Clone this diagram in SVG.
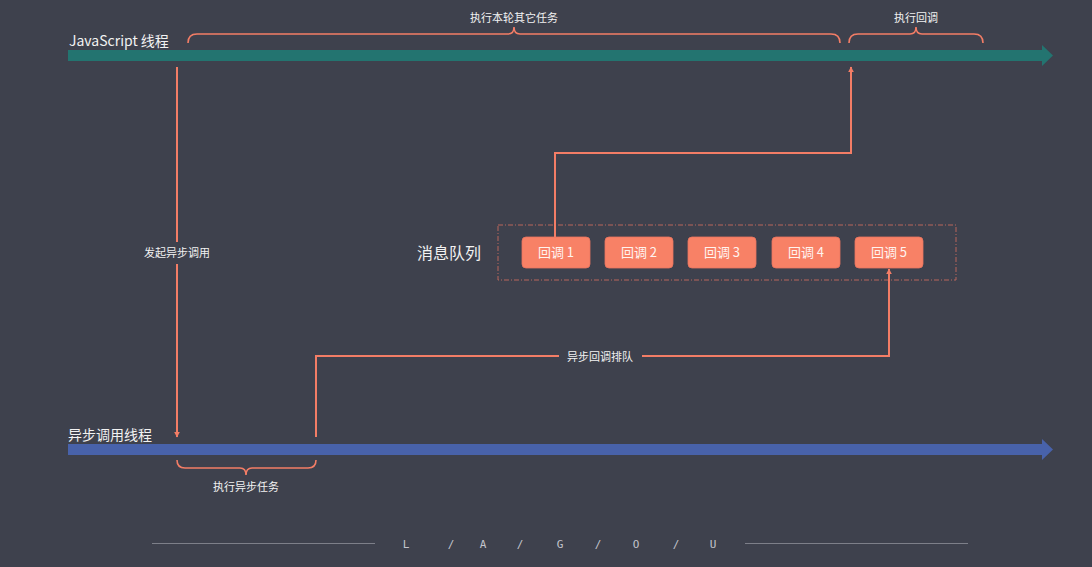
<svg xmlns="http://www.w3.org/2000/svg" width="1092" height="567" viewBox="0 0 1092 567">
<defs>
<style>
.t{font-family:"Noto Sans CJK SC","Noto Sans",sans-serif;fill:#f2f2f2}
.lbl{font-size:11px;text-anchor:middle}
.ln{fill:none;stroke:#f37d66;stroke-width:2}
.br{fill:none;stroke:#f37d66;stroke-width:1.6}
.node rect{fill:#f88166;stroke:#e87560;stroke-width:0.8}
.node text{font-family:"Noto Sans CJK SC","Noto Sans",sans-serif;font-size:13px;fill:#fff3ef;text-anchor:middle}
.ft{font-family:"DejaVu Sans Mono","Liberation Mono",monospace;font-size:11px;fill:#c3c4cc;text-anchor:middle}
</style>
<marker id="ah" viewBox="0 0 10 10" refX="9" refY="5" markerWidth="6" markerHeight="6" markerUnits="userSpaceOnUse" orient="auto">
<path d="M0,0 L10,5 L0,10 Z" fill="#f37d66"/>
</marker>
</defs>
<rect width="1092" height="567" fill="#3e414d"/>

<g id="js-thread">
<path d="M68,50 H1042 V45 L1053,55.5 L1042,66 V61 H68 Z" fill="#237470"/>
<text class="t" x="69" y="46" font-size="14">JavaScript 线程</text>
</g>
<g id="async-thread">
<path d="M68,444 H1042 V439 L1053,449.5 L1042,460 V455 H68 Z" fill="#4862aa"/>
<text class="t" x="68" y="440" font-size="14">异步调用线程</text>
</g>

<g id="braces">
<path class="br" d="M188,43 Q188,34 197,34 H508 Q514,34 514,27 Q514,34 520,34 H831 Q840,34 840,43"/>
<text class="t lbl" x="514" y="22">执行本轮其它任务</text>
<path class="br" d="M849,43 Q849,34 858,34 H910 Q916,34 916,27 Q916,34 922,34 H974 Q983,34 983,43"/>
<text class="t lbl" x="916" y="22">执行回调</text>
<path class="br" d="M177,460 Q177,468 185,468 H240 Q246,468 246,475 Q246,468 252,468 H308 Q316,468 316,460"/>
<text class="t lbl" x="246" y="491">执行异步任务</text>
</g>

<g id="queue">
<rect x="498" y="225" width="458" height="55" fill="none" stroke="#b8675c" stroke-width="1" stroke-dasharray="5,2,1,2"/>
<text class="t" x="417" y="259" font-size="16">消息队列</text>
</g>
<g id="cb1" class="node"><rect x="522" y="237" width="68" height="31" rx="4"/><text x="556" y="257">回调 1</text></g>
<g id="cb2" class="node"><rect x="605" y="237" width="68" height="31" rx="4"/><text x="639" y="257">回调 2</text></g>
<g id="cb3" class="node"><rect x="688" y="237" width="68" height="31" rx="4"/><text x="722" y="257">回调 3</text></g>
<g id="cb4" class="node"><rect x="772" y="237" width="68" height="31" rx="4"/><text x="806" y="257">回调 4</text></g>
<g id="cb5" class="node"><rect x="855" y="237" width="68" height="31" rx="4"/><text x="889" y="257">回调 5</text></g>

<g id="connectors">
<path class="ln" d="M177,67 V242"/>
<path class="ln" d="M177,264 V437" marker-end="url(#ah)"/>
<text class="t lbl" x="177" y="257">发起异步调用</text>
<path class="ln" d="M316,437 V356 H559"/>
<path class="ln" d="M642,356 H889 V269" marker-end="url(#ah)"/>
<text class="t lbl" x="600" y="361">异步回调排队</text>
<path class="ln" d="M555,237 V153 H851 V67" marker-end="url(#ah)"/>
</g>

<g id="footer">
<line x1="152" y1="543.5" x2="375" y2="543.5" stroke="#7d7f89" stroke-width="1"/>
<line x1="745" y1="543.5" x2="968" y2="543.5" stroke="#7d7f89" stroke-width="1"/>
<text class="ft" x="406" y="548">L</text>
<text class="ft" x="451" y="548">/</text>
<text class="ft" x="483" y="548">A</text>
<text class="ft" x="520" y="548">/</text>
<text class="ft" x="560" y="548">G</text>
<text class="ft" x="598" y="548">/</text>
<text class="ft" x="636" y="548">O</text>
<text class="ft" x="676" y="548">/</text>
<text class="ft" x="713" y="548">U</text>
</g>
</svg>
